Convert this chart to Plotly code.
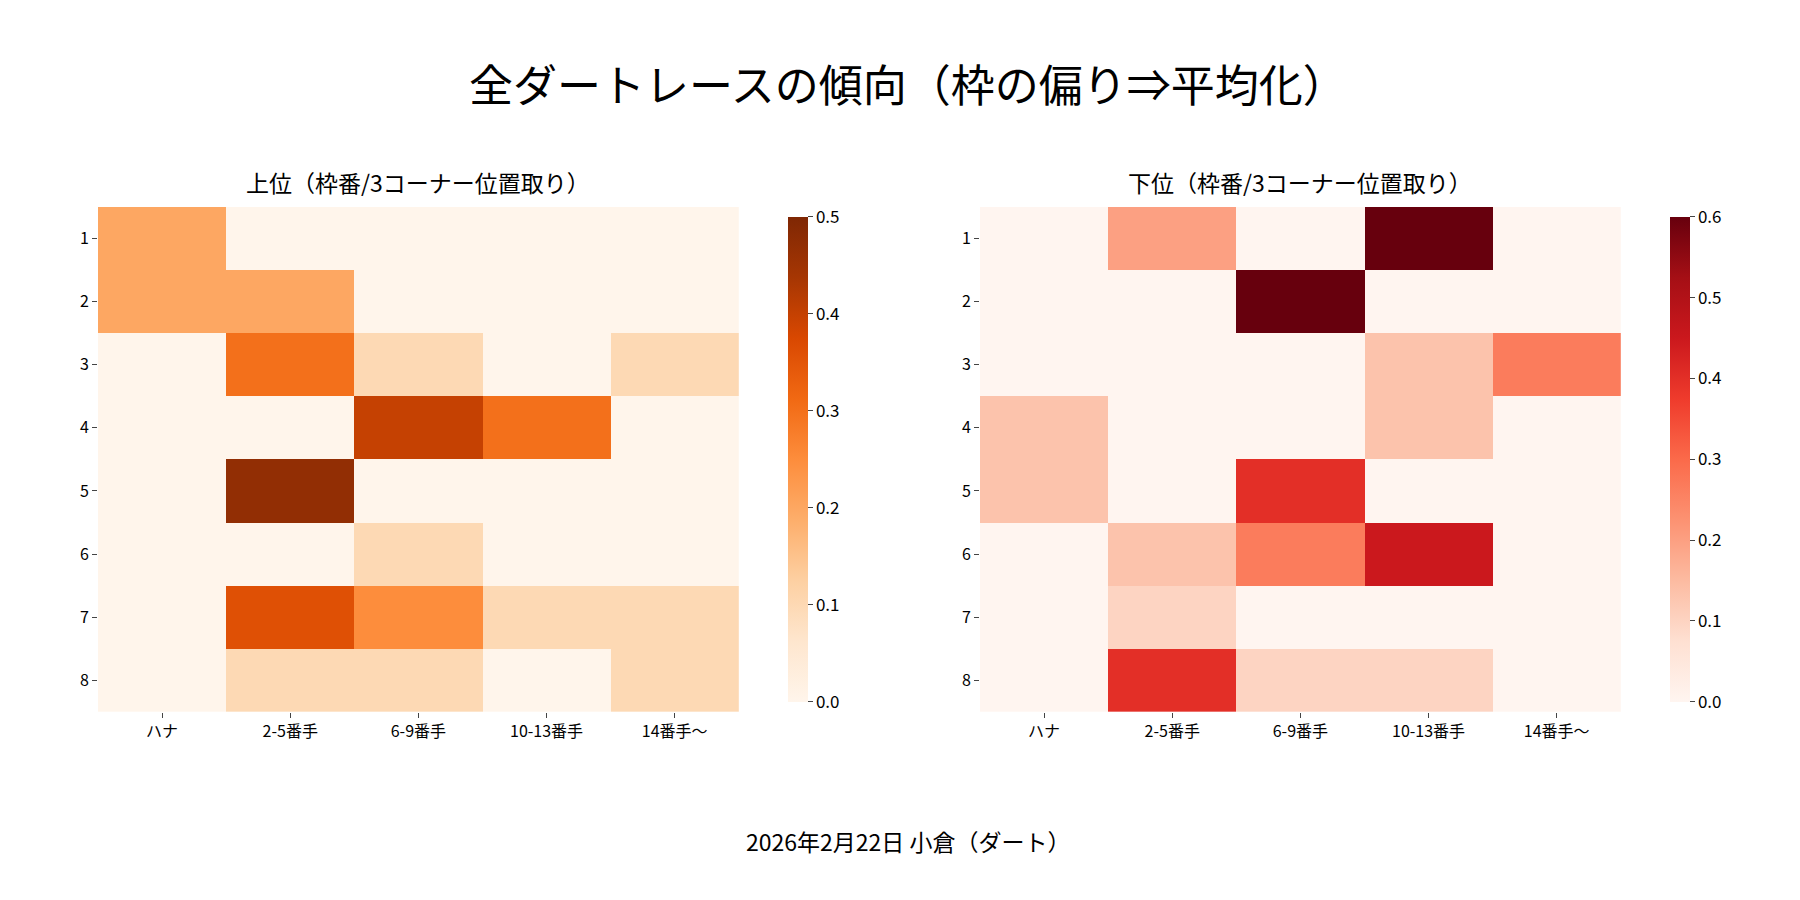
import plotly.graph_objects as go

cols = ["ハナ", "2-5番手", "6-9番手", "10-13番手", "14番手〜"]
rows = ["1", "2", "3", "4", "5", "6", "7", "8"]
upper = [
    [0.2, 0, 0, 0, 0],
    [0.2, 0.2, 0, 0, 0],
    [0, 0.3, 0.1, 0, 0.1],
    [0, 0, 0.4, 0.3, 0],
    [0, 0.47, 0, 0, 0],
    [0, 0, 0.1, 0, 0],
    [0, 0.36, 0.25, 0.1, 0.1],
    [0, 0.1, 0.1, 0, 0.1],
]
lower = [
    [0, 0.2, 0, 0.6, 0],
    [0, 0, 0.6, 0, 0],
    [0, 0, 0, 0.133, 0.267],
    [0.133, 0, 0, 0.133, 0],
    [0.133, 0, 0.4, 0, 0],
    [0, 0.133, 0.267, 0.45, 0],
    [0, 0.1, 0, 0, 0],
    [0, 0.4, 0.1, 0.1, 0],
]

font = "Noto Sans CJK JP"
fig = go.Figure()
cb = dict(len=0.561, y=0.218, yanchor="bottom", thickness=20, outlinewidth=0,
          ticks="outside", ticklen=5, tickfont=dict(size=17), tickformat=".1f")
fig.add_trace(go.Heatmap(z=upper, x=cols, y=rows, colorscale="Oranges", zmin=0, zmax=0.5,
                         xaxis="x", yaxis="y",
                         colorbar=dict(cb, x=0.428, xanchor="left", dtick=0.1)))
fig.add_trace(go.Heatmap(z=lower, x=cols, y=rows, colorscale="Reds", zmin=0, zmax=0.6,
                         xaxis="x2", yaxis="y2",
                         colorbar=dict(cb, x=0.918, xanchor="left", dtick=0.1)))
ax = dict(showgrid=False, zeroline=False, ticks="outside", ticklen=5, tickfont=dict(size=16))
fig.update_layout(
    width=1800, height=900, margin=dict(l=0, r=0, t=0, b=0),
    plot_bgcolor="white", paper_bgcolor="white",
    font=dict(family=font, color="black"),
    xaxis=dict(ax, domain=[0.05, 0.406], anchor="y"),
    yaxis=dict(ax, domain=[0.218, 0.779], autorange="reversed", anchor="x"),
    xaxis2=dict(ax, domain=[0.54, 0.896], anchor="y2"),
    yaxis2=dict(ax, domain=[0.218, 0.779], autorange="reversed", anchor="x2"),
    annotations=[
        dict(text="全ダートレースの傾向（枠の偏り⇒平均化）", x=0.5, y=0.917, xref="paper", yref="paper",
             xanchor="center", yanchor="middle", showarrow=False, font=dict(size=44)),
        dict(text="上位（枠番/3コーナー位置取り）", x=0.228, y=0.807, xref="paper", yref="paper",
             xanchor="center", yanchor="middle", showarrow=False, font=dict(size=23)),
        dict(text="下位（枠番/3コーナー位置取り）", x=0.718, y=0.807, xref="paper", yref="paper",
             xanchor="center", yanchor="middle", showarrow=False, font=dict(size=23)),
        dict(text="2026年2月22日 小倉（ダート）", x=0.5, y=0.074, xref="paper", yref="paper",
             xanchor="center", yanchor="middle", showarrow=False, font=dict(size=23)),
    ],
)
fig.write_html("out.html")
